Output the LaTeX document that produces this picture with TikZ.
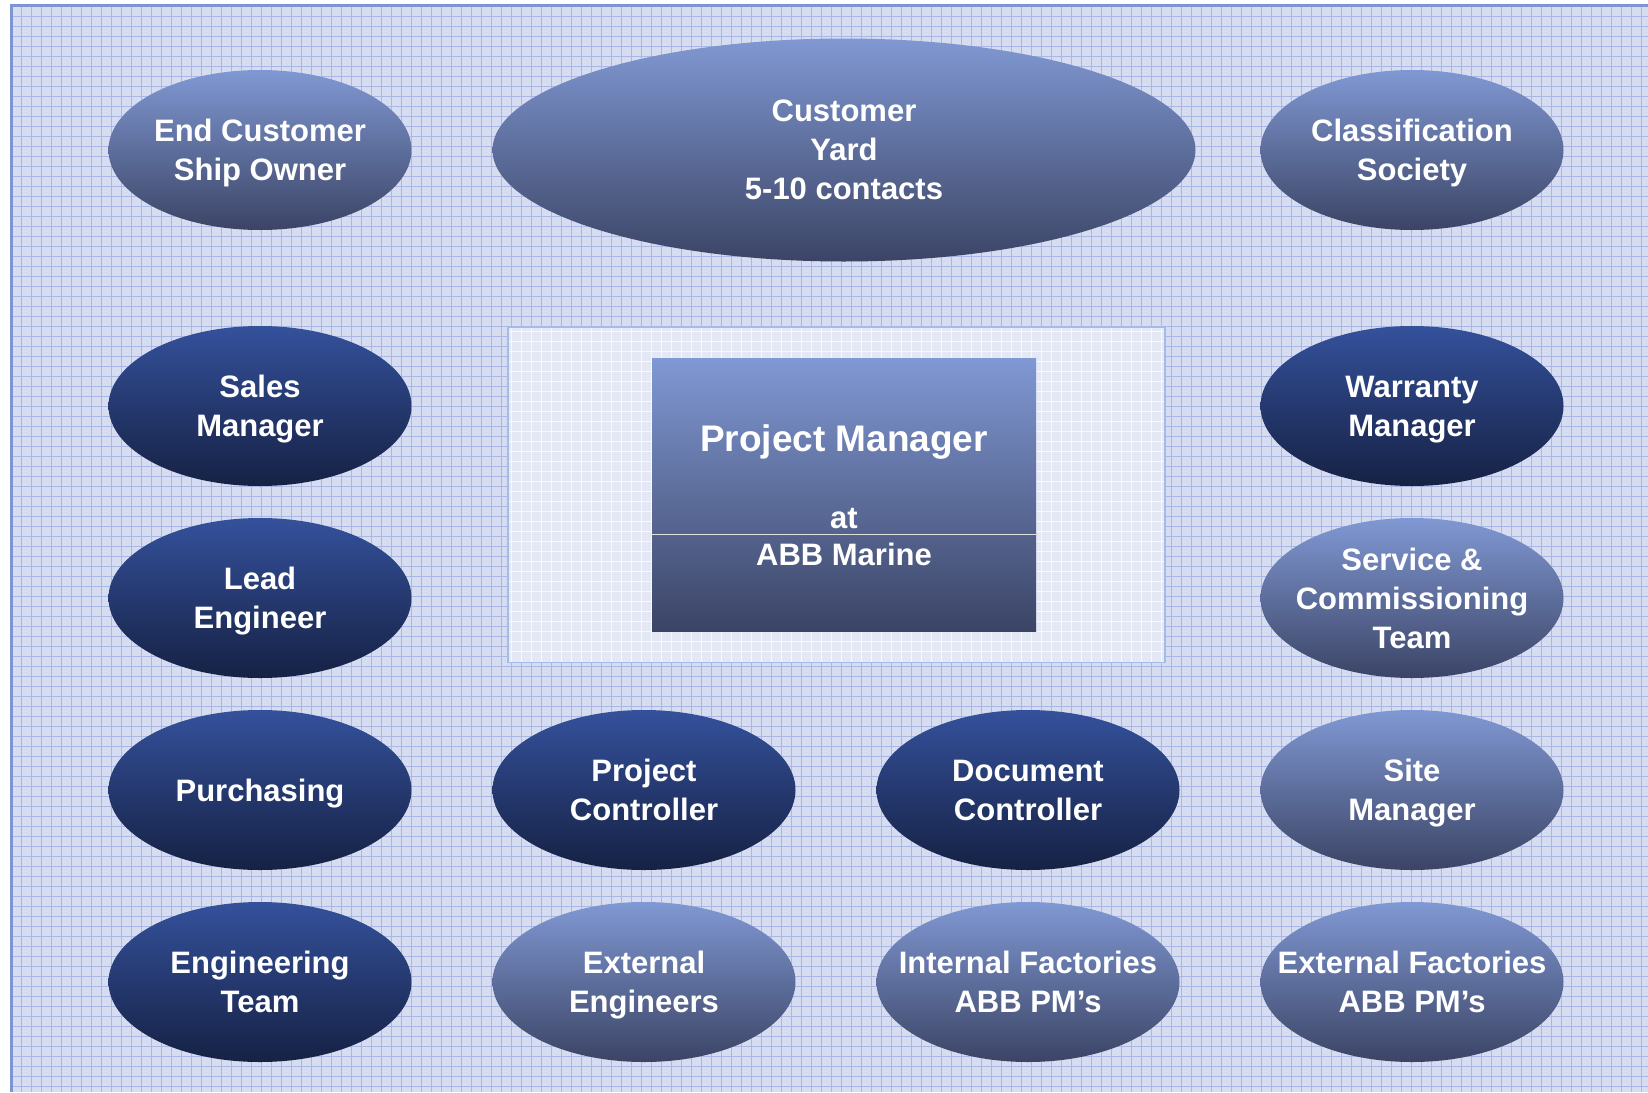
\documentclass[tikz,border=0pt]{standalone}
\usepackage{fontspec}
\setmainfont{Liberation Sans}
\usetikzlibrary{positioning,shapes.geometric}
\definecolor{lighttop}{HTML}{8098D3}
\definecolor{lightbot}{HTML}{3B4465}
\definecolor{darktop}{HTML}{34519B}
\definecolor{darkbot}{HTML}{162144}
\definecolor{paper}{HTML}{D6DDF1}
\definecolor{gridblue}{HTML}{AAB6E3}
\definecolor{frameblue}{HTML}{7F95D1}
\definecolor{boxpaper}{HTML}{E4E8F5}
\definecolor{boxedge}{HTML}{A4BBE7}
\tikzset{
  role/.style={ellipse, minimum width=303pt, minimum height=160pt,
    inner xsep=-60pt, inner ysep=-10pt, text depth=0pt, align=center, text=white,
    font=\fontsize{31}{39}\selectfont\bfseries, shading=axis},
  light/.style={role, top color=lighttop, bottom color=lightbot},
  dark/.style={role, top color=darktop, bottom color=darkbot},
  gridline/.style={gridblue, line width=0.8pt},
  boxgrid/.style={white, line width=0.8pt, opacity=0.7},
}

\begin{document}
\begin{tikzpicture}[x=1pt,y=-1pt,shorten >=0pt,node distance=192pt and 384pt,on grid]
  \useasboundingbox (0,0) rectangle (1648,1092);
  % squared paper
  \fill[paper] (11,5) rectangle (1648,1092);
  \foreach \x in {21,31,...,1648} \draw[gridline] (\x,5) -- (\x,1092);
  \foreach \y in {16,26,...,1092} \draw[gridline] (11,\y) -- (1648,\y);
  \draw[frameblue, line width=3pt] (11,1092) -- (11,5) -- (1648,5);

  \node[draw=boxedge, line width=2.5pt, fill=boxpaper, minimum width=657pt,
    minimum height=335pt, inner sep=0pt] (panel) at (836.5,494.5) {};
  \begin{scope}
    \clip (509,328) rectangle (1164,661);
    \foreach \x in {511,521,...,1165} \draw[boxgrid] (\x,327) -- (\x,662);
    \foreach \y in {331,341,...,662} \draw[boxgrid] (508,\y) -- (1165,\y);
  \end{scope}

  \node[shading=axis, top color=lighttop, bottom color=lightbot, minimum width=384pt,
    minimum height=273pt, inner sep=0pt] (pm) at (844,494.5) {};
  \draw[white!75!gray, line width=1pt] ([yshift=-39.5pt]pm.west) -- ([yshift=-39.5pt]pm.east);
  \node[text=white, text depth=0pt, font=\fontsize{37}{44}\selectfont\bfseries] (pmtitle) at (844,438) {Project Manager};
  \node[text=white, align=center, font=\fontsize{31}{37}\selectfont\bfseries] (pmplace) at (844,537) {at\\ABB Marine};

  \node[dark] (sales) at (260,406) {Sales\\Manager};
  \node[dark] (lead) [below=of sales] {Lead\\Engineer};
  \node[dark] (purch) [below=of lead] {Purchasing};
  \node[dark] (engteam) [below=of purch] {Engineering\\Team};
  \node[dark] (projctrl) [right=of purch] {Project\\Controller};
  \node[dark] (docctrl) [right=of projctrl] {Document\\Controller};
  \node[light] (sitemgr) [right=of docctrl] {Site\\Manager};
  \node[light] (exteng) [below=of projctrl] {External\\Engineers};
  \node[light] (intfac) [below=of docctrl] {Internal Factories\\ABB PM’s};
  \node[light] (extfac) [below=of sitemgr] {External Factories\\ABB PM’s};
  \node[light] (servcom) [above=of sitemgr] {Service \&\\Commissioning\\Team};
  \node[dark] (warranty) [above=of servcom] {Warranty\\Manager};
  \node[light] (endcust) [above=256pt of sales] {End Customer\\Ship Owner};
  \node[light] (classif) [above=256pt of warranty] {Classification\\Society};
  \node[light, minimum width=703pt, minimum height=223pt] (yard) at (844,150) {Customer\\Yard\\5-10 contacts};
\end{tikzpicture}
\end{document}
